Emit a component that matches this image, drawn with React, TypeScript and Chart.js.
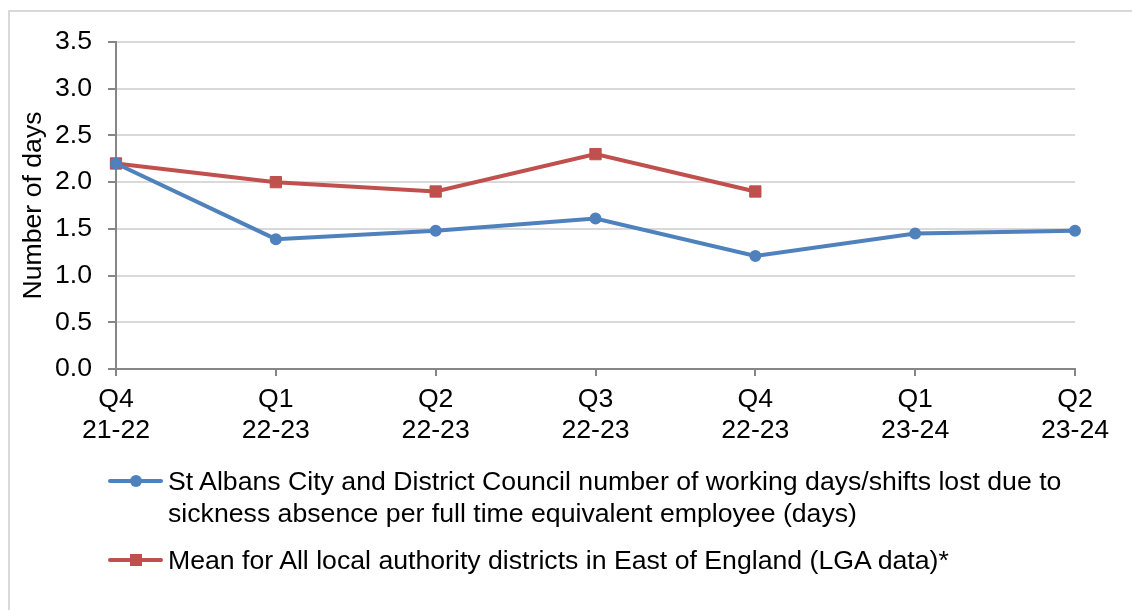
import React, { useEffect, useRef } from "react";
import { Chart, registerables } from "chart.js";

Chart.register(...registerables);

const categories: string[][] = [
  ["Q4", "21-22"],
  ["Q1", "22-23"],
  ["Q2", "22-23"],
  ["Q3", "22-23"],
  ["Q4", "22-23"],
  ["Q1", "23-24"],
  ["Q2", "23-24"],
];
const stAlbansDays: (number | null)[] = [2.2, 1.39, 1.48, 1.61, 1.21, 1.45, 1.48];
const eastEnglandMean: (number | null)[] = [2.2, 2.0, 1.9, 2.3, 1.9, null, null];
const yMin = 0;
const yMax = 3.5;
const yStep = 0.5;

const stAlbansLabel = [
  "St Albans City and District Council number of working days/shifts lost due to",
  "sickness absence per full time equivalent employee (days)",
];
const eastLabel = "Mean for All local authority districts in East of England (LGA data)*";
const yTitle = "Number of days";

const BLUE = "#4f81bd";
const RED = "#c0504d";
const AXIS = "#868686";
const GRID = "#d9d9d9";
const FONT = "'Liberation Sans', Arial, sans-serif";
const FS = 26.67;

export default function App() {
  const ref = useRef<HTMLCanvasElement | null>(null);

  useEffect(() => {
    if (!ref.current) return;
    const chart = new Chart(ref.current, {
      type: "line",
      data: {
        labels: categories,
        datasets: [
          {
            label: stAlbansLabel.join(" "),
            data: stAlbansDays,
            borderColor: BLUE,
            backgroundColor: BLUE,
            borderWidth: 4,
            pointStyle: "circle",
            pointRadius: 5,
            pointBorderWidth: 2,
            tension: 0,
            clip: false as any,
          },
          {
            label: eastLabel,
            data: eastEnglandMean,
            borderColor: RED,
            backgroundColor: RED,
            borderWidth: 4,
            pointStyle: "rect",
            pointRadius: 8,
            pointBorderWidth: 1,
            tension: 0,
            spanGaps: false,
            clip: false as any,
          },
        ],
      },
      options: {
        animation: false,
        responsive: false,
        maintainAspectRatio: false,
        layout: { padding: { left: 0, top: 42, right: 57, bottom: 161 } },
        plugins: {
          legend: { display: false },
          tooltip: { enabled: false },
        },
        scales: {
          x: {
            afterFit: (s: any) => {
              s.height = 80;
            },
            grid: {
              display: true,
              drawOnChartArea: false,
              drawTicks: true,
              tickLength: 7,
              color: AXIS,
              lineWidth: 2,
            },
            border: { display: true, color: AXIS, width: 2 },
            ticks: {
              color: "#000",
              padding: 8,
              maxRotation: 0,
              autoSkip: false,
              font: { family: FONT, size: FS, lineHeight: 1.16 },
            },
          },
          y: {
            min: yMin,
            max: yMax,
            afterFit: (s: any) => {
              s.width = 116;
            },
            grid: {
              color: GRID,
              lineWidth: 2,
              tickColor: AXIS,
              tickLength: 8,
            },
            border: { display: true, color: AXIS, width: 2 },
            ticks: {
              stepSize: yStep,
              color: "#000",
              padding: 16,
              font: { family: FONT, size: FS },
              callback: (v: any) => Number(v).toFixed(1),
            },
            title: {
              display: true,
              text: yTitle,
              color: "#000",
              padding: { top: 18, bottom: 0 },
              font: { family: FONT, size: FS, lineHeight: 1.2 },
            },
          },
        },
      },
    });
    return () => chart.destroy();
  }, []);

  const textStyle: React.CSSProperties = {
    position: "absolute",
    left: 168,
    fontFamily: FONT,
    fontSize: FS,
    lineHeight: "32px",
    color: "#000",
    whiteSpace: "nowrap",
  };

  return (
    <div
      style={{
        position: "fixed",
        left: 0,
        top: 0,
        width: 1132,
        height: 610,
        overflow: "hidden",
        background: "#fff",
      }}
    >
      <div
        style={{
          position: "absolute",
          left: 8,
          top: 10,
          width: 1140,
          height: 620,
          border: `2px solid ${GRID}`,
          boxSizing: "border-box",
        }}
      />
      <canvas
        ref={ref}
        width={1132}
        height={610}
        style={{ position: "absolute", left: 0, top: 0, width: 1132, height: 610 }}
      />
      {/* Legend */}
      <div style={{ position: "absolute", left: 108, top: 479, width: 55, height: 4, background: BLUE, borderRadius: 2 }} />
      <div style={{ position: "absolute", left: 130, top: 475, width: 12, height: 12, background: BLUE, borderRadius: "50%" }} />
      <div style={{ ...textStyle, top: 465 }}>
        {stAlbansLabel[0]}
        <br />
        {stAlbansLabel[1]}
      </div>
      <div style={{ position: "absolute", left: 108, top: 558, width: 55, height: 4, background: RED, borderRadius: 2 }} />
      <div style={{ position: "absolute", left: 130, top: 554, width: 12, height: 12, background: RED }} />
      <div style={{ ...textStyle, top: 544 }}>{eastLabel}</div>
    </div>
  );
}
